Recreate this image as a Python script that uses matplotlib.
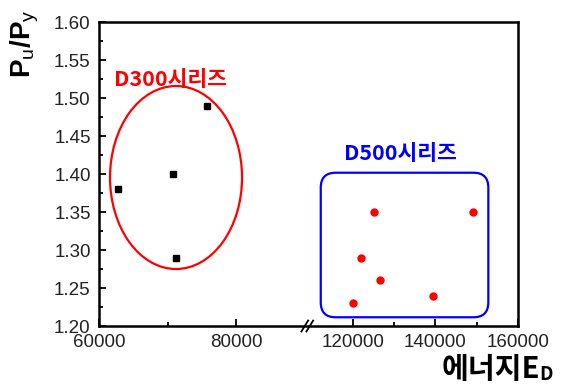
import numpy as np
import matplotlib
matplotlib.use("Agg")
import matplotlib.pyplot as plt
from matplotlib.patches import Ellipse, FancyBboxPatch

plt.rcParams['font.family'] = ['Liberation Sans', 'Noto Sans CJK KR', 'DejaVu Sans']
plt.rcParams['mathtext.fontset'] = 'custom'
plt.rcParams['mathtext.rm'] = 'Liberation Sans'
plt.rcParams['mathtext.bf'] = 'Liberation Sans:bold'
plt.rcParams['mathtext.it'] = 'Liberation Sans:italic'

# data
d300_energy = [62800, 70800, 71300, 75700]
d300_ratio = [1.38, 1.40, 1.29, 1.49]
d500_energy = [120100, 121900, 125100, 126600, 139300, 149000]
d500_ratio = [1.23, 1.29, 1.35, 1.26, 1.24, 1.35]

x_major = [60000, 80000, 120000, 140000, 160000]
x_minor = [70000, 130000, 150000]
y_major = [1.20, 1.25, 1.30, 1.35, 1.40, 1.45, 1.50, 1.55, 1.60]

# broken x axis: 60000-90000 | 110000-160000
brk_data = [60000, 90000, 110000, 160000]
brk_axes = [0.0, 0.4905, 0.5075, 1.0]


def fwd(x):
    return np.interp(x, brk_data, brk_axes)


def inv(u):
    return np.interp(u, brk_axes, brk_data)


fig = plt.figure(figsize=(5.73, 3.87), dpi=100)
ax = fig.add_axes([0.1728, 0.1576, 0.7313, 0.7855])
ax.set_xscale('function', functions=(fwd, inv))
ax.set_xlim(60000, 160000)
ax.set_ylim(1.20, 1.60)

ax.plot(d300_energy, d300_ratio, 's', color='black', markersize=4.5, zorder=3)
ax.plot(d500_energy, d500_ratio, 'o', color='#ff0000', markersize=5, zorder=3)

# group outlines
ax.add_patch(Ellipse((71240, 1.3954), 19270, 0.2408, fill=False,
                     edgecolor='#ff0000', linewidth=1.6))
ax.add_patch(FancyBboxPatch((112200, 1.2115), 152800 - 112200, 1.4017 - 1.2115,
                            boxstyle='round,pad=0,rounding_size=3600',
                            mutation_aspect=5.46e-6, fill=False,
                            edgecolor='#0000ff', linewidth=1.6))

ax.text(70400, 1.525, 'D300시리즈', color='#ff0000', fontsize=15.5,
        fontweight='bold', family=['Noto Sans CJK KR'], ha='center', va='center')
ax.text(131600, 1.4276, 'D500시리즈', color='#0000ff', fontsize=15.5,
        fontweight='bold', family=['Noto Sans CJK KR'], ha='center', va='center')

ax.set_xticks(x_major)
ax.set_xticks(x_minor, minor=True)
ax.set_xticklabels([str(v) for v in x_major])
ax.set_yticks(y_major)
ax.set_yticks([v + 0.025 for v in y_major[:-1]], minor=True)
ax.set_yticklabels([f'{v:.2f}' for v in y_major])

ax.tick_params(axis='both', which='major', direction='in', length=5, width=1.3,
               labelsize=13.5, labelcolor='#222222', top=False, right=False)
ax.tick_params(axis='both', which='minor', direction='in', length=3, width=1.3,
               top=False, right=False)
ax.tick_params(axis='x', pad=6)
ax.tick_params(axis='y', pad=6)
for s in ax.spines.values():
    s.set_linewidth(1.8)

# axis break marks
mid = 0.499
for dx in (-0.008, 0.004):
    ax.plot([mid + dx - 0.008, mid + dx + 0.008], [-0.018, 0.018],
            transform=ax.transAxes, color='black', linewidth=1.3, clip_on=False)

fig.text(0.044, 0.888, r'$\mathbf{P}_\mathrm{u}\mathbf{/P}_\mathrm{y}$',
         rotation=90, ha='center', va='center', fontsize=20)

xl = fig.text(0.771, 0.024, '에너지E', family=['Noto Sans CJK KR'],
              fontsize=21, fontweight='bold', ha='left', va='baseline')
ax.annotate('D', xy=(1, 0), xycoords=xl, xytext=(-1, -0.5),
            textcoords='offset points', family=['Noto Sans CJK KR'],
            fontsize=13.5, fontweight='bold', ha='left', va='bottom',
            annotation_clip=False)

fig.savefig('out.png', dpi=100)
